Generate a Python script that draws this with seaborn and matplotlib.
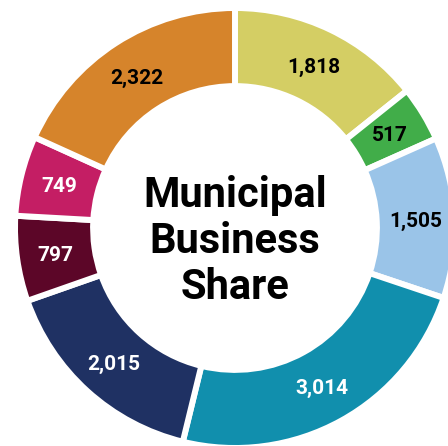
import matplotlib
matplotlib.use('agg')
import matplotlib.pyplot as plt
import seaborn as sns
import numpy as np

# values clockwise from 12 o'clock
values = [1818, 517, 1505, 3014, 2015, 797, 749, 2322]
colors = ['#D4CE64', '#41AD49', '#9AC4E8', '#118FAD',
          '#1F3163', '#5C0628', '#C41E64', '#D6842B']
text_colors = ['black', 'black', 'black', 'white',
               'white', 'white', 'white', 'black']
title = 'Municipal\nBusiness\nShare'

sns.set_theme(style='white')
plt.rcParams['font.family'] = ['Roboto', 'DejaVu Sans']

fig = plt.figure(figsize=(4.48, 4.46), dpi=100)
# place the ring: centre at (235, 228) px from top-left, radius 220 px
ax = fig.add_axes([15 / 448, -2 / 446, 440 / 448, 440 / 446])

palette = sns.color_palette(colors)
ring = 0.355
wedges, texts = ax.pie(values, colors=palette, startangle=90, counterclock=False,
                       radius=1.0,
                       wedgeprops=dict(width=ring, edgecolor='white', linewidth=4.3))
for w in wedges:
    w.set_clip_on(False)

ax.set_xlim(-1, 1)
ax.set_ylim(-1, 1)
ax.set_aspect('equal')

# value labels at the middle of the ring
total = sum(values)
start = 90.0
for v, tc in zip(values, text_colors):
    span = 360.0 * v / total
    mid = np.deg2rad(start - span / 2)
    r = 1 - ring / 2
    ax.text(r * np.cos(mid), r * np.sin(mid), f'{v:,}', ha='center',
            va='center_baseline', fontsize=15, fontweight='bold', color=tc)
    start -= span

ax.text(0.0, -0.062, title, ha='center', va='center', fontsize=30,
        fontweight='bold', color='black', linespacing=1.15)

fig.savefig('out.png', dpi=100)
